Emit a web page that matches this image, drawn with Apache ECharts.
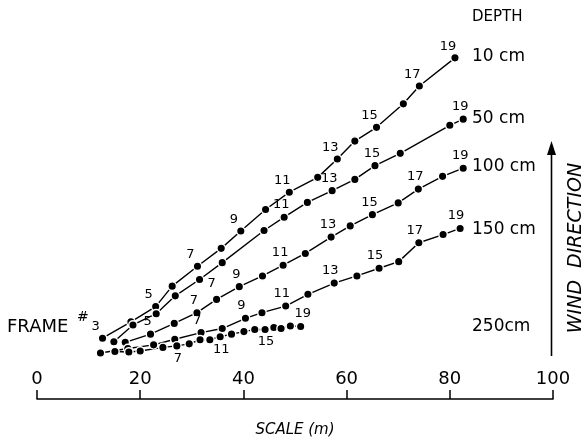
<!DOCTYPE html>
<html>
<head>
<meta charset="utf-8">
<script src="https://cdn.jsdelivr.net/npm/echarts@6/dist/echarts.min.js"></script>
<style>html,body{margin:0;padding:0;background:#fff}#c{width:585px;height:443px}</style>
</head>
<body>
<div id="c"></div>
<script>
// Scale (m) along the x axis, drift (m) along the wind direction, frame numbers
const depths = ['10 cm', '50 cm', '100 cm', '150 cm', '250cm'];
const xTicks = [0, 20, 40, 60, 80, 100];

const x10 = [12.7, 18.2, 23.0, 26.2, 31.1, 35.7, 39.5, 44.3, 48.9, 54.4, 58.2, 61.6, 65.8, 71.0, 74.1, 81.0];
const y10 = [11.9, 15.1, 18.1, 22.1, 26.0, 29.5, 32.9, 37.1, 40.5, 43.4, 47.0, 50.5, 53.2, 57.8, 61.3, 66.8];
const f10 = [3, 4, 5, 6, 7, 8, 9, 10, 11, 12, 13, 14, 15, 16, 17, 19];
const lab10 = [3, 5, 7, 9, 11, 13, 15, 17, 19];

const x50 = [14.9, 18.6, 23.1, 26.8, 31.5, 35.9, 44.0, 47.9, 52.4, 57.2, 61.6, 65.5, 70.4, 80.0, 82.6];
const y50 = [11.2, 14.5, 16.7, 20.2, 23.4, 26.7, 33.0, 35.6, 38.5, 40.8, 43.0, 45.7, 48.1, 53.6, 54.8];
const f50 = [3, 4, 5, 6, 7, 8, 10, 11, 12, 13, 14, 15, 16, 18, 19];
const lab50 = [7, 11, 13, 15, 19];

const x100 = [17.1, 22.0, 26.6, 31.0, 34.8, 39.2, 43.7, 47.7, 52.0, 57.0, 60.7, 65.0, 70.0, 73.9, 78.6, 82.6];
const y100 = [11.1, 12.7, 14.8, 16.9, 19.5, 22.0, 24.1, 26.2, 28.5, 31.7, 33.9, 36.1, 38.4, 41.1, 43.6, 45.2];
const f100 = [4, 5, 6, 7, 8, 9, 10, 11, 12, 13, 14, 15, 16, 17, 18, 19];
const lab100 = [5, 7, 9, 11, 13, 15, 17, 19];

const x150 = [12.3, 17.6, 22.6, 26.7, 31.8, 35.9, 40.4, 43.6, 48.2, 52.5, 57.6, 62.0, 66.3, 70.1, 74.0, 78.7, 82.0];
const y150 = [9.0, 9.9, 10.6, 11.7, 13.0, 13.8, 15.8, 16.9, 18.2, 20.5, 22.7, 24.1, 25.6, 26.9, 30.6, 32.2, 33.4];
const f150 = [3, 4, 5, 6, 7, 8, 9, 10, 11, 12, 13, 14, 15, 16, 17, 18, 19];
const lab150 = [7, 9, 11, 13, 15, 17, 19];

const x250 = [15.1, 17.8, 20.0, 24.4, 27.1, 29.5, 31.6, 33.5, 35.5, 37.7, 40.1, 42.2, 44.2, 45.9, 47.3, 49.1, 51.1];
const y250 = [9.3, 9.2, 9.4, 10.1, 10.4, 10.8, 11.6, 11.6, 12.2, 12.7, 13.2, 13.6, 13.6, 14.0, 13.8, 14.3, 14.2];
const f250 = [3, 4, 5, 6, 7, 8, 9, 10, 11, 12, 13, 14, 15, 16, 17, 18, 19];
const lab250 = [7, 11, 15, 19];

const FONT = 'DejaVu Sans';

function labelStyle(series, frame) {
  const base = {show: true, formatter: String(frame), position: 'top', distance: 1,
    fontSize: 13, color: '#000', fontFamily: FONT};
  if (series === 0) { base.offset = [-7, 1]; }
  if (series === 1) {
    if (frame === 7) { base.position = 'right'; base.distance = 3; base.offset = [0, 4]; }
    else base.offset = [-3, 0];
  }
  if (series === 2) base.offset = [-3, 0];
  if (series === 3) base.offset = [-4, 0];
  if (series === 4) {
    if (frame === 19) base.offset = [2, 0];
    else { base.position = 'bottom'; base.distance = 1; base.offset = [1, 0]; }
  }
  return base;
}

function build(si, xs, ys, fs, labs) {
  return xs.map((x, i) => {
    const item = {value: [x, ys[i]]};
    if (labs.includes(fs[i])) item.label = labelStyle(si, fs[i]);
    return item;
  });
}

const allSets = [
  [x10, y10, f10, lab10],
  [x50, y50, f50, lab50],
  [x100, y100, f100, lab100],
  [x150, y150, f150, lab150],
  [x250, y250, f250, lab250]
];

const series = allSets.map((s, si) => ({
  name: depths[si],
  type: 'line',
  data: build(si, s[0], s[1], s[2], s[3]),
  symbol: 'circle',
  symbolSize: 8.5,
  showSymbol: true,
  animation: false,
  lineStyle: {color: '#000', width: 1.4},
  itemStyle: {color: '#000', borderColor: '#fff', borderWidth: 1.4},
  label: {show: false},
  z: 2
}));

const chart = echarts.init(document.getElementById('c'), null, {renderer: 'canvas'});

const depthY = [57, 118.5, 167, 230, 327];
const graphics = [
  {type: 'text', left: 472, top: 10, style: {text: 'DEPTH', font: '15px "DejaVu Sans"', fill: '#000'}},
  {type: 'text', left: 7, top: 318, style: {text: 'FRAME', font: '18px "DejaVu Sans"', fill: '#000'}},
  {type: 'text', left: 77, top: 310, style: {text: '#', font: '14px "DejaVu Sans"', fill: '#000'}},
  {type: 'line', shape: {x1: 551.5, y1: 356, x2: 551.5, y2: 150}, style: {stroke: '#000', lineWidth: 1.6}},
  {type: 'polygon', shape: {points: [[551.5, 141], [547, 155], [556, 155]]}, style: {fill: '#000'}},
  {type: 'text', x: 576, y: 248, rotation: Math.PI / 2,
    style: {text: 'WIND  DIRECTION', font: 'italic 19px "DejaVu Sans"', fill: '#000', align: 'center', verticalAlign: 'middle'}}
];
depths.forEach((d, i) => {
  graphics.push({type: 'text', x: 472, y: depthY[i],
    style: {text: d, font: '17px "DejaVu Sans"', fill: '#000', verticalAlign: 'middle'}});
});

chart.setOption({
  backgroundColor: '#fff',
  animation: false,
  grid: {left: 37, right: 32, top: 16, bottom: 40},
  xAxis: {
    type: 'value', min: 0, max: 100, interval: 20,
    name: 'SCALE (m)', nameLocation: 'middle', nameGap: 24,
    nameTextStyle: {fontFamily: FONT, fontSize: 15, fontStyle: 'italic', color: '#000'},
    axisLine: {show: true, lineStyle: {color: '#000', width: 1.6}},
    axisTick: {show: true, inside: true, length: 9, lineStyle: {color: '#000', width: 1.5}},
    axisLabel: {inside: true, margin: 11, color: '#000', fontSize: 18, fontFamily: FONT,
      formatter: v => String(xTicks.includes(v) ? v : '')},
    splitLine: {show: false}
  },
  yAxis: {type: 'value', min: 0, max: 75, show: false, splitLine: {show: false}},
  series: series,
  graphic: graphics
});
</script>
</body>
</html>
